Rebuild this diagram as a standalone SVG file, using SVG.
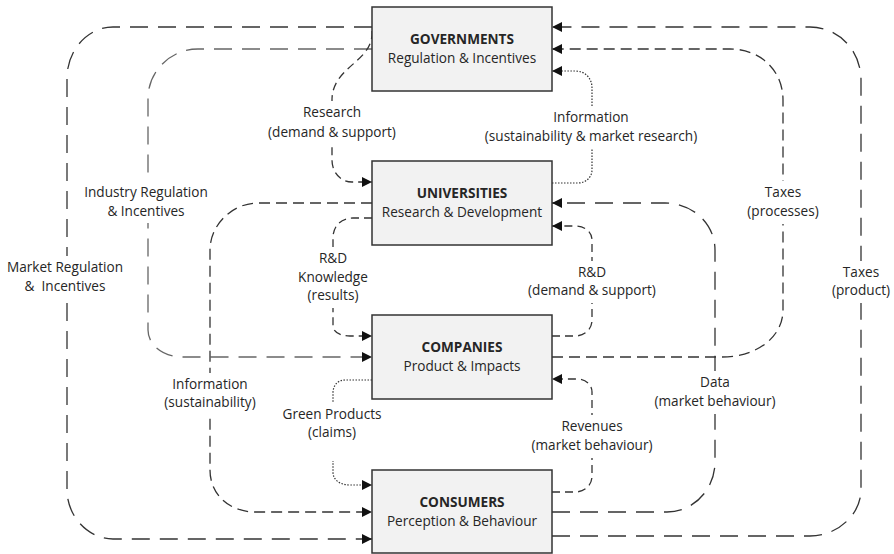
<svg xmlns="http://www.w3.org/2000/svg" width="894" height="554" viewBox="0 0 894 554">
  <style>
    .box { fill: #f2f2f2; stroke: #333; stroke-width: 1.5; }
    text { font-family: "Open Sans", "Liberation Sans", sans-serif; font-size: 13.6px; fill: #262626; text-anchor: middle; }
    .title { font-weight: bold; }
    .pre { white-space: pre; }
    .link { fill: none; stroke: #333; stroke-width: 1.3; }
    .long { stroke-dasharray: 18 10; }
    .longgray { stroke-dasharray: 18 10; stroke: #666; }
    .med { stroke-dasharray: 11 6; }
    .short { stroke-dasharray: 8 5; }
    .dot { stroke-dasharray: 1.5 1.5; stroke-width: 1.2; }
    .arrow { marker-end: url(#head); }
    .bg { fill: #fff; }
  </style>
  <defs>
    <marker id="head" markerUnits="userSpaceOnUse" markerWidth="11" markerHeight="10" refX="10" refY="5" orient="auto">
      <path d="M0,0 L10,5 L0,10 z" fill="#111"/>
    </marker>
  </defs>

  <rect width="894" height="554" fill="#fff"/>

  <g id="connectors">
    <!-- Market Regulation & Incentives: governments -> consumers -->
    <path class="link long arrow" d="M372,27 H113 C88,27 67,50 67,78 V490 C67,516 88,539 113,539 H372"/>
    <!-- Industry Regulation & Incentives: governments -> companies -->
    <path class="link longgray arrow" d="M372,49 H198 C170,49 148,72 148,98 V330 C148,345 163,357 183,357 H372"/>
    <!-- Research (demand & support): governments -> universities -->
    <path class="link short arrow" d="M372,31 C374,62 332,66 332,100 V160 C332,172 340,182 352,182 H372"/>
    <!-- Information (sustainability & market research): universities -> governments -->
    <path class="link dot arrow" d="M552,183 H578 C586,183 592,177 592,170 V88 C592,78 585,71 575,71 H552"/>
    <!-- Information (sustainability): universities -> consumers -->
    <path class="link med arrow" d="M372,203 H258 C232,203 210,225 210,250 V470 C210,495 230,512 255,512 H372"/>
    <!-- R&D Knowledge (results): universities -> companies -->
    <path class="link short arrow" d="M372,218 H353 C341,218 333,226 333,238 V326 C333,332 340,336 350,336 H372"/>
    <!-- R&D (demand & support): companies -> universities -->
    <path class="link short arrow" d="M552,336 H575 C585,336 592,329 592,320 V240 C592,232 585,226 575,226 H552"/>
    <!-- Taxes (processes): companies -> governments -->
    <path class="link med arrow" d="M552,357 H722 C757,357 783,337 783,310 V100 C783,70 760,49 730,49 H552"/>
    <!-- Green Products (claims): companies -> consumers -->
    <path class="link dot arrow" d="M372,380 H345 C338,380 333,385 333,393 V472 C333,480 340,485 350,485 H372"/>
    <!-- Revenues (market behaviour): consumers -> companies -->
    <path class="link short arrow" d="M552,492 H575 C585,492 592,485 592,476 V392 C592,385 586,379 577,379 H552"/>
    <!-- Data (market behaviour): consumers -> universities -->
    <path class="link long arrow" d="M552,512 H667 C693,512 715,490 715,462 V250 C715,224 693,203 665,203 H552"/>
    <!-- Taxes (product): consumers -> governments -->
    <path class="link long arrow" d="M552,536 H810 C838,536 861,514 861,490 V80 C861,50 838,27 810,27 H552"/>
  </g>

  <g id="labels">
    <g id="lbl-market">
      <rect class="bg" x="55" y="256" width="24" height="42"/>
      <text x="65" y="272">Market Regulation</text>
      <text class="pre" x="65" y="291">&amp;  Incentives</text>
    </g>
    <g id="lbl-industry">
      <rect class="bg" x="136" y="181" width="24" height="42"/>
      <text x="146" y="197">Industry Regulation</text>
      <text x="146" y="216">&amp; Incentives</text>
    </g>
    <g id="lbl-research">
      <rect class="bg" x="320" y="101" width="24" height="43"/>
      <text x="332" y="117">Research</text>
      <text x="332" y="137">(demand &amp; support)</text>
    </g>
    <g id="lbl-info-market">
      <rect class="bg" x="580" y="106" width="24" height="43"/>
      <text x="591" y="122">Information</text>
      <text x="591" y="141">(sustainability &amp; market research)</text>
    </g>
    <g id="lbl-rd-knowledge">
      <rect class="bg" x="321" y="247" width="24" height="61"/>
      <text x="333" y="263">R&amp;D</text>
      <text x="333" y="282">Knowledge</text>
      <text x="333" y="300">(results)</text>
    </g>
    <g id="lbl-rd-demand">
      <rect class="bg" x="580" y="261" width="24" height="42"/>
      <text x="592" y="277">R&amp;D</text>
      <text x="592" y="295">(demand &amp; support)</text>
    </g>
    <g id="lbl-taxes-processes">
      <rect class="bg" x="771" y="181" width="24" height="43"/>
      <text x="783" y="197">Taxes</text>
      <text x="783" y="216">(processes)</text>
    </g>
    <g id="lbl-taxes-product">
      <rect class="bg" x="849" y="261" width="24" height="42"/>
      <text x="861" y="277">Taxes</text>
      <text x="861" y="295">(product)</text>
    </g>
    <g id="lbl-info-sust">
      <rect class="bg" x="198" y="373" width="24" height="42"/>
      <text x="210" y="389">Information</text>
      <text x="210" y="407">(sustainability)</text>
    </g>
    <g id="lbl-green">
      <rect class="bg" x="321" y="403" width="24" height="58"/>
      <text x="332" y="419">Green Products</text>
      <text x="332" y="437">(claims)</text>
    </g>
    <g id="lbl-data">
      <rect class="bg" x="703" y="371" width="24" height="43"/>
      <text x="715" y="387">Data</text>
      <text x="715" y="406">(market behaviour)</text>
    </g>
    <g id="lbl-revenues">
      <rect class="bg" x="580" y="415" width="24" height="43"/>
      <text x="592" y="431">Revenues</text>
      <text x="592" y="450">(market behaviour)</text>
    </g>
  </g>

  <g id="governments">
    <rect class="box" x="372" y="7" width="180" height="84"/>
    <text class="title" x="462" y="44">GOVERNMENTS</text>
    <text x="462" y="63">Regulation &amp; Incentives</text>
  </g>
  <g id="universities">
    <rect class="box" x="372" y="161" width="180" height="84"/>
    <text class="title" x="462" y="198">UNIVERSITIES</text>
    <text x="462" y="217">Research &amp; Development</text>
  </g>
  <g id="companies">
    <rect class="box" x="372" y="315" width="180" height="84"/>
    <text class="title" x="462" y="352">COMPANIES</text>
    <text x="462" y="371">Product &amp; Impacts</text>
  </g>
  <g id="consumers">
    <rect class="box" x="372" y="470" width="180" height="83"/>
    <text class="title" x="462" y="507">CONSUMERS</text>
    <text x="462" y="526">Perception &amp; Behaviour</text>
  </g>
</svg>
